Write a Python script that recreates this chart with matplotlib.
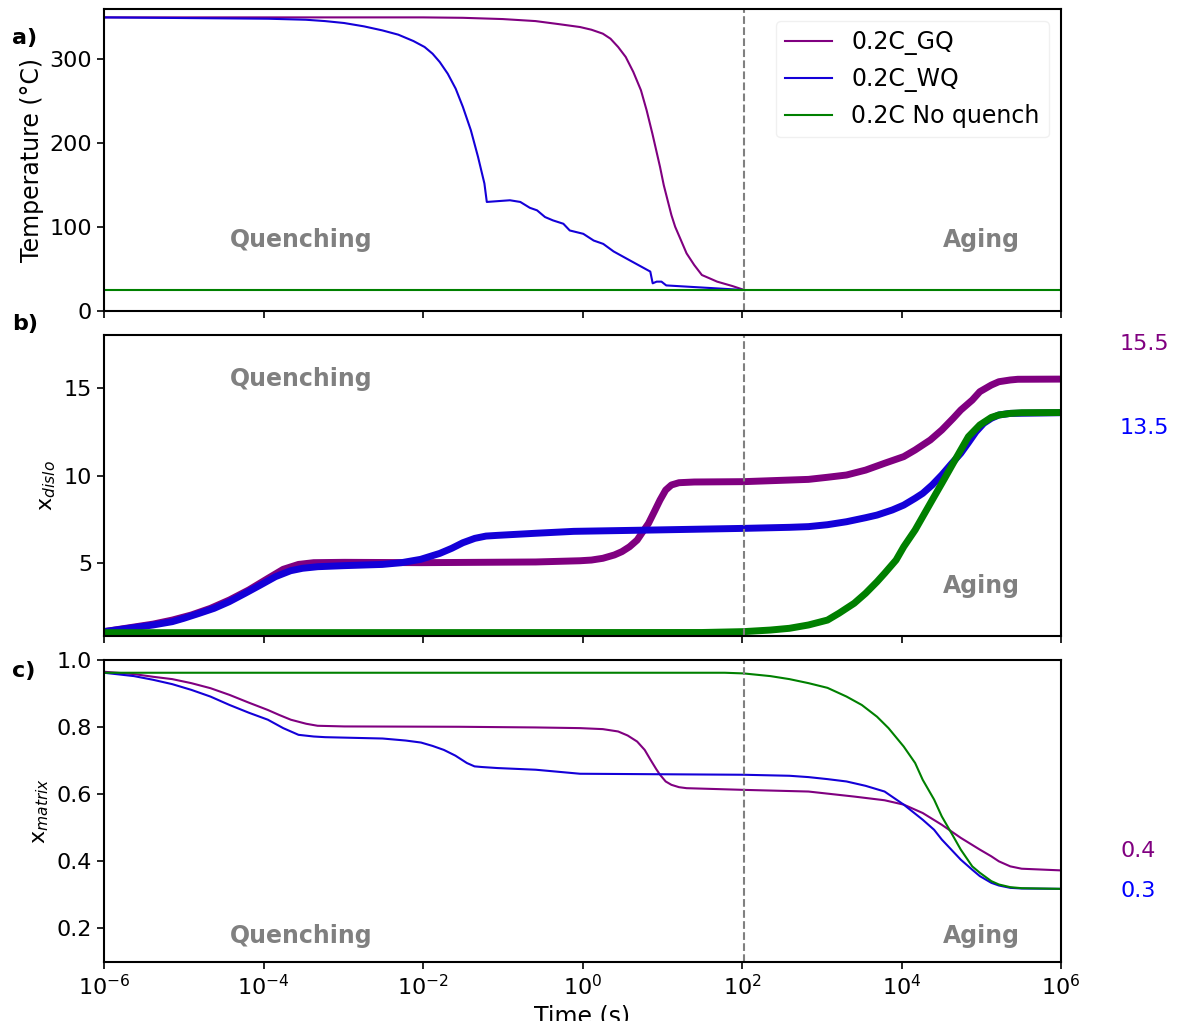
import numpy as np
import matplotlib
matplotlib.use("Agg")
import matplotlib.pyplot as plt
from matplotlib.ticker import FixedLocator, NullLocator, LogFormatterMathtext

# ---------------- data (log10 time, value) ----------------
labels = ["0.2C_GQ", "0.2C_WQ", "0.2C No quench"]
colors = ["purple", "#1400d8", "green"]

# Panel a: temperature (°C)
gq_T_logt = [-6, -2.0, -1.5, -1.0, -0.59, -0.3, -0.031, 0.112, 0.255, 0.351, 0.447, 0.542,
             0.637, 0.733, 0.804, 0.876, 0.924, 0.972, 1.019, 1.067, 1.115, 1.162, 1.234,
             1.305, 1.401, 1.497, 1.592, 1.688, 1.878, 2.03]
gq_T = [350, 350, 349.5, 348, 345.6, 342, 338.5, 335.3, 330.6, 324.6, 314.7, 302.8,
        285, 263.1, 239.3, 211.5, 191.7, 171.8, 150, 132.1, 114.3, 100.4, 84.5,
        68.7, 54.8, 42.9, 39, 35, 29.8, 25]

wq_T_logt = [-6, -3.94, -3.47, -3.23, -2.99, -2.74, -2.51, -2.31, -2.12, -1.98, -1.88, -1.79,
             -1.69, -1.59, -1.50, -1.40, -1.31, -1.23, -1.20, -0.91, -0.78, -0.66, -0.57,
             -0.47, -0.37, -0.24, -0.16, 0.01, 0.14, 0.26, 0.39, 0.60, 0.85, 0.88, 0.93,
             0.99, 1.05, 2.03]
wq_T = [350, 348.4, 347.2, 345.6, 343.3, 339.3, 334.5, 329.4, 321.8, 314.7, 306.7, 296.8,
        282.9, 265, 243.3, 215.5, 183.7, 152, 130, 132, 130, 123, 120,
        112, 108, 104, 96, 92, 84, 80, 71, 60, 47, 33, 35,
        35, 30.5, 25]

nq_T_logt = [-6, 6]
nq_T = [25, 25]

# Panel b: x_dislo
gq_d_logt = [-6, -5.384, -5.144, -4.905, -4.665, -4.426, -4.185, -3.945, -3.753, -3.561,
             -3.370, -2.986, -2.025, -0.587, -0.031, 0.112, 0.255, 0.399, 0.494, 0.590,
             0.685, 0.756, 0.828, 0.900, 0.972, 1.043, 1.115, 1.210, 1.401, 2.021, 2.834,
             3.072, 3.311, 3.550, 3.788, 4.028, 4.171, 4.361, 4.505, 4.648, 4.743, 4.887,
             4.982, 5.126, 5.221, 5.364, 5.459, 6.0]
gq_d = [1.08, 1.51, 1.74, 2.03, 2.41, 2.89, 3.46, 4.12, 4.64, 4.92,
        5.02, 5.04, 5.02, 5.06, 5.13, 5.17, 5.27, 5.46, 5.65, 5.93,
        6.31, 6.79, 7.27, 7.93, 8.60, 9.17, 9.46, 9.59, 9.63, 9.65, 9.78,
        9.90, 10.03, 10.31, 10.70, 11.08, 11.46, 12.03, 12.60, 13.27, 13.74, 14.31,
        14.79, 15.17, 15.36, 15.46, 15.50, 15.51]

wq_d_logt = [-6, -5.384, -5.144, -5.0, -4.81, -4.62, -4.43, -4.23, -4.04, -3.85, -3.66,
             -3.51, -3.32, -2.99, -2.51, -2.27, -2.03, -1.79, -1.64, -1.50, -1.35, -1.21,
             -1.07, -0.59, -0.11, 0.924, 2.021, 2.595, 2.834, 3.072, 3.311, 3.550, 3.693,
             3.884, 4.028, 4.171, 4.266, 4.385, 4.505, 4.624, 4.743, 4.839, 4.934, 5.030,
             5.126, 5.221, 5.364, 6.0]
wq_d = [1.08, 1.46, 1.65, 1.84, 2.12, 2.41, 2.79, 3.27, 3.74, 4.22, 4.56,
        4.70, 4.79, 4.85, 4.92, 5.02, 5.21, 5.55, 5.84, 6.16, 6.41, 6.54,
        6.58, 6.70, 6.81, 6.89, 6.98, 7.04, 7.08, 7.19, 7.36, 7.59, 7.74,
        8.03, 8.31, 8.70, 8.98, 9.46, 10.03, 10.66, 11.27, 11.88, 12.50, 12.98,
        13.27, 13.46, 13.55, 13.59]

nq_d_logt = [-6, 1.5, 2.021, 2.356, 2.595, 2.834, 3.072, 3.216, 3.407, 3.550, 3.693, 3.788,
             3.932, 4.028, 4.171, 4.266, 4.409, 4.505, 4.648, 4.743, 4.839, 4.982, 5.126,
             5.221, 5.364, 5.507, 6.0]
nq_d = [1.02, 1.03, 1.08, 1.17, 1.27, 1.46, 1.74, 2.13, 2.70, 3.27, 3.93, 4.41,
        5.17, 5.93, 6.89, 7.65, 8.79, 9.55, 10.70, 11.46, 12.22, 12.89, 13.32,
        13.46, 13.55, 13.59, 13.60]

# Panel c: x_matrix
gq_m_logt = [-6, -5.624, -5.384, -5.144, -4.905, -4.665, -4.426, -4.185, -3.945, -3.801,
             -3.657, -3.465, -3.322, -2.986, -1.546, -0.587, -0.031, 0.255, 0.447, 0.566,
             0.685, 0.780, 0.852, 0.924, 0.972, 1.043, 1.115, 1.210, 1.305, 2.021, 2.834,
             3.407, 3.788, 4.028, 4.266, 4.505, 4.743, 4.982, 5.126, 5.221, 5.364, 5.507,
             6.0]
gq_m = [0.965, 0.958, 0.950, 0.943, 0.931, 0.916, 0.896, 0.873, 0.851, 0.836,
        0.822, 0.810, 0.804, 0.802, 0.801, 0.799, 0.797, 0.794, 0.787, 0.775,
        0.757, 0.732, 0.703, 0.675, 0.658, 0.638, 0.628, 0.621, 0.618, 0.613, 0.608,
        0.593, 0.582, 0.569, 0.544, 0.509, 0.470, 0.435, 0.415, 0.400, 0.385, 0.378,
        0.373]

wq_m_logt = [-6, -5.624, -5.384, -5.144, -4.905, -4.665, -4.426, -4.185, -3.945, -3.753,
             -3.561, -3.370, -3.226, -2.506, -2.217, -2.025, -1.881, -1.738, -1.594, -1.450,
             -1.354, -1.258, -1.067, -0.587, -0.031, 2.021, 2.595, 2.834, 3.072, 3.311,
             3.550, 3.788, 4.028, 4.266, 4.409, 4.505, 4.624, 4.743, 4.887, 4.982, 5.126,
             5.221, 5.364, 5.507, 6.0]
wq_m = [0.962, 0.952, 0.941, 0.928, 0.911, 0.891, 0.866, 0.843, 0.822, 0.797,
        0.777, 0.772, 0.770, 0.766, 0.760, 0.754, 0.744, 0.732, 0.715, 0.693,
        0.683, 0.681, 0.678, 0.673, 0.661, 0.658, 0.655, 0.651, 0.645, 0.638,
        0.625, 0.608, 0.569, 0.524, 0.494, 0.465, 0.435, 0.405, 0.375, 0.356, 0.336,
        0.328, 0.321, 0.319, 0.318]

nq_m_logt = [-6, 1.783, 2.021, 2.356, 2.595, 2.834, 3.072, 3.311, 3.502, 3.693, 3.837,
             4.028, 4.171, 4.266, 4.409, 4.505, 4.648, 4.743, 4.887, 4.982, 5.126, 5.221,
             5.364, 5.507, 6.0]
nq_m = [0.962, 0.962, 0.960, 0.952, 0.943, 0.931, 0.917, 0.891, 0.866, 0.831, 0.797,
        0.742, 0.693, 0.643, 0.584, 0.534, 0.475, 0.435, 0.385, 0.366, 0.341, 0.331,
        0.323, 0.320, 0.318]

end_labels_b = ["15.5", "13.5"]
end_labels_c = ["0.4", "0.3"]
t_switch = 107.0

# ---------------- figure ----------------
plt.rcParams['font.family'] = ['DejaVu Sans']
fig = plt.figure(figsize=(11.77, 10.21), dpi=100)
L, W = 104 / 1177, (1061 - 104) / 1177
def fy(p):
    return 1 - p / 1021
ax_a = fig.add_axes([L, fy(311), W, fy(9) - fy(311)])
ax_b = fig.add_axes([L, fy(636), W, fy(335) - fy(636)], sharex=ax_a)
ax_c = fig.add_axes([L, fy(962), W, fy(660) - fy(962)], sharex=ax_a)

def T(lt):
    return 10.0 ** np.asarray(lt, dtype=float)

# panel a
for (lt, v), lab, c in zip([(gq_T_logt, gq_T), (wq_T_logt, wq_T), (nq_T_logt, nq_T)], labels, colors):
    ax_a.plot(T(lt), v, color=c, lw=1.5, label=lab)
ax_a.set_ylim(0, 360)
ax_a.set_yticks([0, 100, 200, 300])
ax_a.set_ylabel("Temperature (°C)", fontsize=17)
leg = ax_a.legend(loc="upper right", fontsize=17)
leg.get_frame().set_edgecolor("0.93")

# panel b
for (lt, v), c in zip([(gq_d_logt, gq_d), (wq_d_logt, wq_d), (nq_d_logt, nq_d)], colors):
    ax_b.plot(T(lt), v, color=c, lw=5, solid_joinstyle='round')
ax_b.set_ylim(0.83, 18.03)
ax_b.set_yticks([5, 10, 15])
ax_b.set_ylabel(r"x$_{dislo}$", fontsize=16)

# panel c
for (lt, v), c in zip([(gq_m_logt, gq_m), (wq_m_logt, wq_m), (nq_m_logt, nq_m)], colors):
    ax_c.plot(T(lt), v, color=c, lw=1.5)
ax_c.set_ylim(0.1, 1.0)
ax_c.set_yticks([0.2, 0.4, 0.6, 0.8, 1.0])
ax_c.set_ylabel(r"x$_{matrix}$", fontsize=16)
ax_c.set_xlabel("Time (s)", fontsize=17)

ax_c.set_xscale("log")
ax_c.set_xlim(1e-6, 1e6)
for ax in (ax_a, ax_b, ax_c):
    ax.xaxis.set_major_locator(FixedLocator([1e-6, 1e-4, 1e-2, 1e0, 1e2, 1e4, 1e6]))
    ax.xaxis.set_minor_locator(NullLocator())
    ax.tick_params(labelsize=16, width=1.2, length=5)
    for s in ax.spines.values():
        s.set_linewidth(1.5)
    ax.axvline(t_switch, color="gray", ls="--", lw=1.5)
ax_c.xaxis.set_major_formatter(LogFormatterMathtext())
ax_a.tick_params(labelbottom=False)
ax_b.tick_params(labelbottom=False)

txt_kw = dict(color="gray", fontsize=17, fontweight="bold", ha="center", va="center")
ax_a.text(3e-4, 85, "Quenching", **txt_kw)
ax_a.text(1e5, 85, "Aging", **txt_kw)
ax_b.text(3e-4, 15.5, "Quenching", **txt_kw)
ax_b.text(1e5, 3.7, "Aging", **txt_kw)
ax_c.text(3e-4, 0.176, "Quenching", **txt_kw)
ax_c.text(1e5, 0.176, "Aging", **txt_kw)

ax_b.text(5.5e6, 17.54, end_labels_b[0], color="purple", fontsize=16, ha="left", va="center", clip_on=False)
ax_b.text(5.5e6, 12.69, end_labels_b[1], color="blue", fontsize=16, ha="left", va="center", clip_on=False)
ax_c.text(5.5e6, 0.432, end_labels_c[0], color="purple", fontsize=16, ha="left", va="center", clip_on=False)
ax_c.text(5.5e6, 0.311, end_labels_c[1], color="blue", fontsize=16, ha="left", va="center", clip_on=False)

fig.text(12 / 1177, fy(38), "a)", fontsize=16, fontweight="bold", ha="left", va="center")
fig.text(12 / 1177, fy(324), "b)", fontsize=16, fontweight="bold", ha="left", va="center")
fig.text(12 / 1177, fy(671), "c)", fontsize=16, fontweight="bold", ha="left", va="center")

fig.savefig("out.png", dpi=100)
